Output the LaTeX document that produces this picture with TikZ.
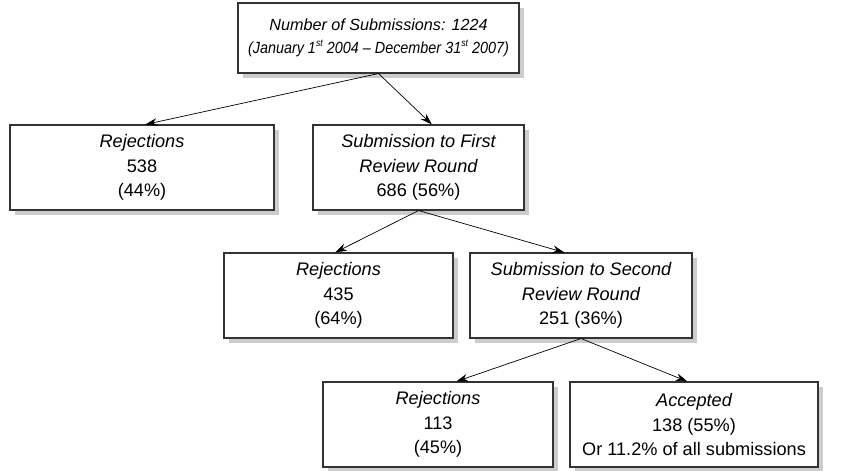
\documentclass[tikz,border=0pt]{standalone}
\usepackage{fontspec}
\setmainfont{Liberation Sans}
\usetikzlibrary{arrows.meta,shadows}
\newcommand{\ordsup}[1]{\raisebox{0.9ex}{\fontsize{8.5}{9}\selectfont #1}}
\begin{document}
\begin{tikzpicture}[x=0.03cm,y=-0.03cm,
box/.style={draw=black!80,line width=0.9pt,fill=white,align=center,inner sep=0pt,
  minimum height=2.55cm,font=\fontsize{15.5}{21}\selectfont,
  drop shadow={shadow xshift=0.15cm,shadow yshift=-0.15cm,fill=black!20,opacity=1}},
link/.style={-{Stealth[length=10pt,width=6.5pt]},line width=0.6pt}]
\useasboundingbox (0,0) rectangle (853,470);
\node[box,minimum width=8.43cm,minimum height=2.1cm,font=\fontsize{13.8}{20}\selectfont] (total) at (378.5,38)
{\itshape Number of Submissions: 1224\\
\scalebox{0.89}[1]{\itshape (January 1\ordsup{st} 2004 -- December 31\ordsup{st} 2007)}};
\node[box,minimum width=7.92cm] (rejA) at (142,167.5) {\itshape Rejections\\538\\(44\%)};
\node[box,minimum width=6.33cm] (roundA) at (418.5,167.5)
{\itshape Submission to First\\\itshape Review Round\\686 (56\%)};
\node[box,minimum width=6.87cm] (rejB) at (338.5,295.5) {\itshape Rejections\\435\\(64\%)};
\node[box,minimum width=6.66cm] (roundB) at (581,295.5)
{\itshape Submission to Second\\\itshape Review Round\\251 (36\%)};
\node[box,minimum width=6.9cm] (rejC) at (438,424.5) {\itshape Rejections\\113\\(45\%)};
\node[box,minimum width=7.44cm] (acc) at (694,424.5)
{\itshape Accepted\\138 (55\%)\\Or 11.2\% of all submissions};
\draw[link] (total.south) -- ([xshift=0.1cm]rejA.north);
\draw[link] (total.south) -- ([xshift=0.4cm]roundA.north);
\draw[link] (roundA.south) -- ([xshift=-0.1cm]rejB.north);
\draw[link] (roundA.south) -- ([xshift=-0.5cm]roundB.north);
\draw[link] (roundB.south) -- ([xshift=0.55cm]rejC.north);
\draw[link] (roundB.south) -- ([xshift=-0.2cm]acc.north);
\end{tikzpicture}
\end{document}
